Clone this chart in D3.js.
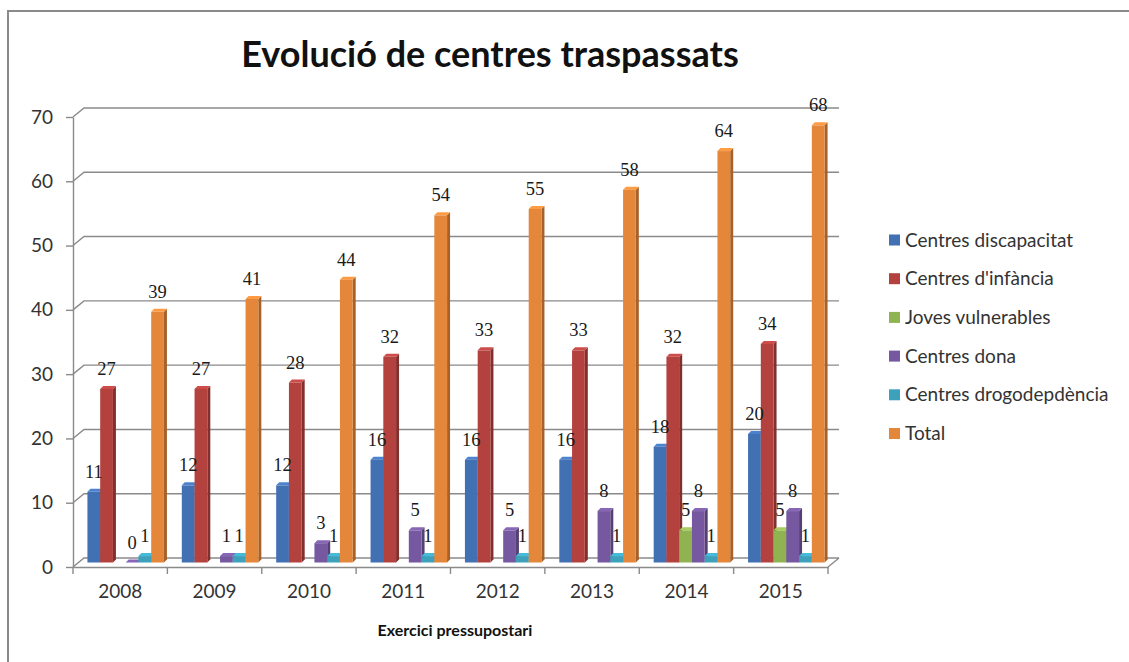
<!DOCTYPE html>
<html>
<head>
<meta charset="utf-8">
<script src="https://cdn.jsdelivr.net/npm/d3@7"></script>
<style>
  body { margin: 0; background: #fff; }
  svg { display: block; }
</style>
</head>
<body>
<script>
const years = ['2008', '2009', '2010', '2011', '2012', '2013', '2014', '2015']
const seriesNames = ['Centres discapacitat', "Centres d'infància", 'Joves vulnerables', 'Centres dona', 'Centres drogodepdència', 'Total']
const discapacitat = [11, 12, 12, 16, 16, 16, 18, 20]
const infancia = [27, 27, 28, 32, 33, 33, 32, 34]
const joves = [null, null, null, null, null, null, 5, 5]
const dona = [0, 1, 3, 5, 5, 8, 8, 8]
const drogodep = [1, 1, 1, 1, 1, 1, 1, 1]
const total = [39, 41, 44, 54, 55, 58, 64, 68]
const yTicks = [0, 10, 20, 30, 40, 50, 60, 70]
const colors = ['#4271b3', '#b3423f', '#90b351', '#75589f', '#3da1bb', '#e5873a']

const seriesValues = [discapacitat, infancia, joves, dona, drogodep, total]

const width = 1129
const height = 662
const font = 'Lato, "Open Sans", sans-serif'

const svg = d3.select('body').append('svg')
  .attr('width', width)
  .attr('height', height)

svg.append('rect').attr('width', width).attr('height', height).attr('fill', '#fff')

// outer chart frame (only top and left visible)
svg.append('path')
  .attr('d', `M8,${height} L8,11 L${width},11`)
  .attr('fill', 'none')
  .attr('stroke', '#8a8a8a')
  .attr('stroke-width', 2)

// 3D offsets
const back = { dx: 11, dy: -9 }
const mid = { dx: 5.5, dy: -4.5 }
const depth = 3

const xScale = d3.scaleBand()
  .domain(years)
  .range([73, 828])

const yScale = d3.scaleLinear()
  .domain([0, 70])
  .range([567, 117])

const inner = d3.scaleBand()
  .domain(seriesNames)
  .range([0, xScale.bandwidth()])
  .paddingOuter(0.7)

const grid = '#8a8a8a'

// back wall gridlines + floor back edge
svg.append('g').selectAll('path')
  .data(yTicks)
  .enter().append('path')
  .attr('d', d => {
    const y = yScale(d)
    return `M73,${y} L${73 + back.dx},${y + back.dy} L${828 + back.dx},${y + back.dy}`
  })
  .attr('fill', 'none')
  .attr('stroke', grid)
  .attr('stroke-width', 1.4)

// floor right edge
svg.append('path')
  .attr('d', `M828,${yScale(0)} L${828 + back.dx},${yScale(0) + back.dy}`)
  .attr('fill', 'none')
  .attr('stroke', grid)
  .attr('stroke-width', 1.4)

// bars
const bars = svg.append('g')
seriesValues.forEach((vals, si) => {
  const base = d3.color(colors[si])
  vals.forEach((v, i) => {
    if (v === null) return
    const x0 = xScale(years[i]) + mid.dx + inner(seriesNames[si])
    const x1 = x0 + inner.bandwidth()
    const yb = yScale(0) + mid.dy
    const yt = yScale(v) + mid.dy
    const g = bars.append('g')
    g.append('path')
      .attr('d', `M${x1},${yt} L${x1 + depth},${yt - depth} L${x1 + depth},${yb - depth} L${x1},${yb} Z`)
      .attr('fill', base.darker(0.9))
    g.append('path')
      .attr('d', `M${x0},${yt} L${x0 + depth},${yt - depth} L${x1 + depth},${yt - depth} L${x1},${yt} Z`)
      .attr('fill', base.brighter(0.4))
    g.append('rect')
      .attr('x', x0)
      .attr('y', yt)
      .attr('width', inner.bandwidth())
      .attr('height', yb - yt)
      .attr('fill', base)
  })
})

// value labels
seriesValues.forEach((vals, si) => {
  svg.append('g').selectAll('text')
    .data(vals.map((v, i) => ({ v, year: years[i] })).filter(d => d.v !== null))
    .enter().append('text')
    .attr('x', d => xScale(d.year) + mid.dx + inner(seriesNames[si]) + inner.bandwidth() / 2)
    .attr('y', d => yScale(d.v) + mid.dy - 14)
    .attr('text-anchor', 'middle')
    .style('font-family', '"Liberation Serif", serif')
    .style('font-size', '18.5px')
    .style('fill', '#1a1a1a')
    .text(d => d.v)
})

// y axis (front)
const yAxis = svg.append('g')
  .attr('transform', 'translate(73,0)')
  .call(d3.axisLeft(yScale).tickValues(yTicks).tickSize(7).tickSizeOuter(0).tickPadding(13))
yAxis.selectAll('path, line').attr('stroke', grid).attr('stroke-width', 1.4)
yAxis.selectAll('text')
  .style('font-family', font)
  .style('font-size', '19px')
  .style('fill', '#333')

// x axis (front edge of floor)
const xAxis = svg.append('g')
  .attr('transform', `translate(0,${yScale(0)})`)
  .call(d3.axisBottom(xScale).tickSize(0).tickSizeOuter(0).tickPadding(18))
xAxis.select('.domain').attr('stroke', grid).attr('stroke-width', 1.4)
xAxis.selectAll('text')
  .style('font-family', font)
  .style('font-size', '19px')
  .style('fill', '#333')

xAxis.selectAll('.sep')
  .data(years.concat(['end']))
  .enter().append('line')
  .attr('class', 'sep')
  .attr('x1', d => d === 'end' ? xScale.range()[1] : xScale(d))
  .attr('x2', d => d === 'end' ? xScale.range()[1] : xScale(d))
  .attr('y1', 0)
  .attr('y2', 7)
  .attr('stroke', grid)
  .attr('stroke-width', 1.4)

// title
svg.append('text')
  .attr('x', 490)
  .attr('y', 67)
  .attr('text-anchor', 'middle')
  .style('font-family', font)
  .style('font-weight', 'bold')
  .style('font-size', '36px')
  .style('fill', '#111')
  .text('Evolució de centres traspassats')

// x axis title
svg.append('text')
  .attr('x', 455)
  .attr('y', 636)
  .attr('text-anchor', 'middle')
  .style('font-family', font)
  .style('font-weight', 'bold')
  .style('font-size', '16px')
  .style('fill', '#111')
  .text('Exercici pressupostari')

// legend
const legend = svg.append('g')
  .attr('transform', 'translate(889,240)')
const item = legend.selectAll('g')
  .data(seriesNames)
  .enter().append('g')
  .attr('transform', (d, i) => `translate(0,${i * 38.7})`)
item.append('rect')
  .attr('x', 0)
  .attr('y', -5.5)
  .attr('width', 11)
  .attr('height', 11)
  .attr('fill', (d, i) => colors[i])
item.append('text')
  .attr('x', 16)
  .attr('y', 6.5)
  .style('font-family', font)
  .style('font-size', '19px')
  .style('fill', '#333')
  .text(d => d)
</script>
</body>
</html>
